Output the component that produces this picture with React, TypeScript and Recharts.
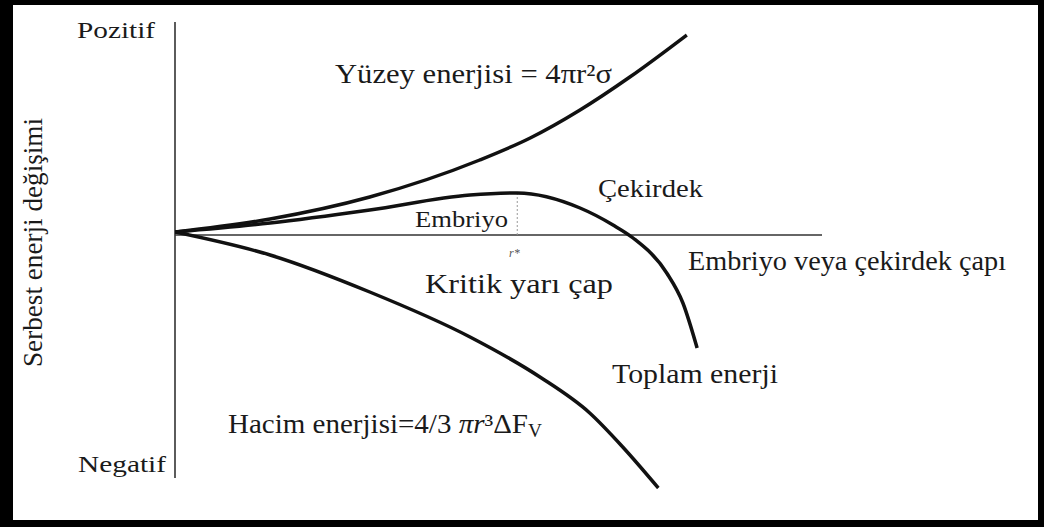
import React from 'react';
import { LineChart, Line, XAxis, YAxis, ReferenceLine } from 'recharts';

// Radius (embryo / nucleus size) and free-energy change, arbitrary units
const surfaceR = [0, 14.7, 30.1, 47.1, 54.9, 62.6, 70.3, 79.1];
const surfaceE = [1.2, 6.4, 15.2, 30, 38.8, 50, 63.2, 80];
const totalR = [0, 14.7, 30.1, 45.6, 52.9, 62.6, 67.7, 70.8, 76.0, 78.5, 80.7];
const totalE = [1.2, 4.8, 10, 16, 16.8, 10.8, 4, -1.2, -15.2, -27.2, -45.2];
const volumeR = [0, 14.7, 30.1, 45.6, 56.4, 64.1, 69.2, 74.7];
const volumeE = [1.2, -8, -22.8, -40.8, -56.8, -71.2, -84.8, -101.2];
const criticalR = 52.9;
const criticalE = 16.8;
const axisTop = 85.2;
const axisBottom = -97.2;

const toRows = (rs: number[], es: number[]) => rs.map((r, i) => ({ r, e: es[i] }));
const surfaceData = toRows(surfaceR, surfaceE);
const totalData = toRows(totalR, totalE);
const volumeData = toRows(volumeR, volumeE);

const W = 1044;
const H = 527;
const serif = '"Liberation Serif", "DejaVu Serif", serif';

export default function App() {
  const txt = { fontFamily: serif, fill: '#1a1a1a' } as const;
  return (
    <div style={{ position: 'absolute', left: 0, top: 0, width: W, height: H, background: '#fff' }}>
      <LineChart
        width={W}
        height={H}
        margin={{ top: 20, right: 222, bottom: 17, left: 175 }}
        style={{ position: 'absolute', left: 0, top: 0 }}
      >
        <XAxis dataKey="r" type="number" domain={[0, 100]} hide allowDataOverflow />
        <YAxis type="number" domain={[-110, 86]} hide allowDataOverflow />
        <ReferenceLine y={0} stroke="#333" strokeWidth={1.6} />
        <ReferenceLine
          segment={[{ x: 0, y: axisBottom }, { x: 0, y: axisTop }]}
          stroke="#333"
          strokeWidth={1.6}
        />
        <ReferenceLine
          segment={[{ x: criticalR, y: 0 }, { x: criticalR, y: criticalE }]}
          stroke="#999"
          strokeWidth={1}
          strokeDasharray="2 2"
        />
        <Line data={surfaceData} dataKey="e" type="monotone" stroke="#111" strokeWidth={3.5} dot={false} isAnimationActive={false} />
        <Line data={totalData} dataKey="e" type="monotone" stroke="#111" strokeWidth={3.5} dot={false} isAnimationActive={false} />
        <Line data={volumeData} dataKey="e" type="monotone" stroke="#111" strokeWidth={3.5} dot={false} isAnimationActive={false} />
      </LineChart>
      <svg width={W} height={H} style={{ position: 'absolute', left: 0, top: 0, pointerEvents: 'none' }}>
        <text {...txt} x={77} y={38} fontSize={24} textLength={78} lengthAdjust="spacingAndGlyphs">Pozitif</text>
        <text {...txt} x={78} y={472} fontSize={24} textLength={88} lengthAdjust="spacingAndGlyphs">Negatif</text>
        <text {...txt} x={335} y={83} fontSize={27} textLength={277} lengthAdjust="spacingAndGlyphs">Yüzey enerjisi = 4πr²σ</text>
        <text {...txt} x={598} y={197} fontSize={25} textLength={105} lengthAdjust="spacingAndGlyphs">Çekirdek</text>
        <text {...txt} x={415} y={227} fontSize={24} textLength={93} lengthAdjust="spacingAndGlyphs">Embriyo</text>
        <text x={509} y={257} fontSize={12} fontStyle="italic" fontFamily={serif} fill="#555">r*</text>
        <text {...txt} x={688} y={270} fontSize={27} textLength={318} lengthAdjust="spacingAndGlyphs">Embriyo veya çekirdek çapı</text>
        <text {...txt} x={425} y={293} fontSize={27} textLength={188} lengthAdjust="spacingAndGlyphs">Kritik yarı çap</text>
        <text {...txt} x={612} y={383} fontSize={27} textLength={166} lengthAdjust="spacingAndGlyphs">Toplam enerji</text>
        <text {...txt} x={228} y={433} fontSize={27} textLength={314} lengthAdjust="spacingAndGlyphs">
          Hacim enerjisi=4/3 <tspan fontStyle="italic">πr</tspan>³ΔF<tspan fontSize={18} dy={4}>V</tspan>
        </text>
        <text {...txt} x={42} y={367} fontSize={27} textLength={249} lengthAdjust="spacingAndGlyphs" transform="rotate(-90 42 367)">Serbest enerji değişimi</text>
      </svg>
      <div
        style={{
          position: 'absolute',
          left: 0,
          top: 0,
          width: W,
          height: H,
          boxSizing: 'border-box',
          borderLeft: '13px solid #000',
          borderTop: '5px solid #000',
          borderRight: '6px solid #000',
          borderBottom: '7px solid #000',
          pointerEvents: 'none',
        }}
      />
    </div>
  );
}
